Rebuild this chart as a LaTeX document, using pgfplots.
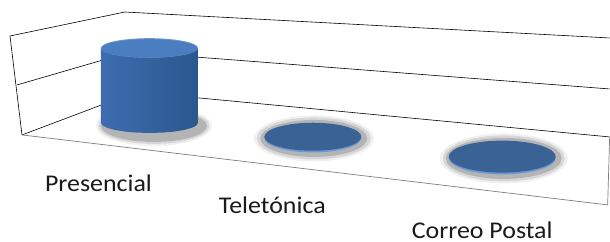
\documentclass[border=0pt]{standalone}
\usepackage{pgfplots}
\pgfplotsset{compat=1.18}
\usepackage{fontspec}
\setmainfont{Carlito}
\definecolor{cylL}{HTML}{3D6DB0}
\definecolor{cylM}{HTML}{5891D5}
\definecolor{cylR}{HTML}{2B578E}
\definecolor{cyltop}{HTML}{4A7EC0}
\definecolor{disk}{HTML}{3B6295}
\definecolor{diskrim}{HTML}{6A9AD6}
\definecolor{grid}{HTML}{8C8C8C}
\definecolor{txt}{HTML}{1A1A1A}
\begin{document}
\begin{tikzpicture}
\begin{axis}[
  width=610pt, height=242pt, scale only axis,
  xmin=0, xmax=610, ymin=0, ymax=242, y dir=reverse,
  hide axis, clip=false, clip marker paths=true,
  ell/.style={only marks, mark=*, mark size=1pt},
]
% background
\addplot[fill=white, draw=none] coordinates {(0,0) (610,0) (610,242) (0,242)};
% walls
\addplot[grid, line width=0.6pt] coordinates {(22,135) (10,36) (125,12) (610,38)};
\addplot[grid, line width=0.6pt] coordinates {(17,85) (130.5,52) (610,89)};
\addplot[grid, line width=0.6pt] coordinates {(22,135) (136,92) (610,137)};
% floor
\addplot[grid!90!black, line width=0.7pt] coordinates {(22,135) (608,205) (610,137)};
% shadows (soft, layered)
\addplot[ell, mark options={draw opacity=0, fill=black, fill opacity=0.06, xscale=58, yscale=20}] coordinates {(154,126)};
\addplot[ell, mark options={draw opacity=0, fill=black, fill opacity=0.10, xscale=55.5, yscale=18}] coordinates {(154,126)};
\addplot[ell, mark options={draw opacity=0, fill=black, fill opacity=0.16, xscale=53, yscale=16}] coordinates {(154,126)};
\addplot[ell, mark options={draw opacity=0, fill=black, fill opacity=0.06, xscale=60, yscale=23}] coordinates {(314,138.5)};
\addplot[ell, mark options={draw opacity=0, fill=black, fill opacity=0.10, xscale=57, yscale=21}] coordinates {(314,138.5)};
\addplot[ell, mark options={draw opacity=0, fill=black, fill opacity=0.16, xscale=53.5, yscale=18.5}] coordinates {(314,138.5)};
\addplot[ell, mark options={draw opacity=0, fill=black, fill opacity=0.06, xscale=64, yscale=25}] coordinates {(504,158.5)};
\addplot[ell, mark options={draw opacity=0, fill=black, fill opacity=0.10, xscale=61, yscale=23}] coordinates {(504,158.5)};
\addplot[ell, mark options={draw opacity=0, fill=black, fill opacity=0.16, xscale=58, yscale=20.5}] coordinates {(504,158.5)};
% Presencial cylinder body
\addplot[draw=none, left color=cylL, middle color=cylM, right color=cylR] coordinates {
 (101,48) (101,123) (102.65,125.6) (107.5,128) (115.2,130.1) (125.25,131.7)
 (136.9,132.7) (149.5,133) (162.1,132.7) (173.75,131.7) (183.8,130.1)
 (191.5,128) (196.35,125.6) (198,123) (198,48)};
% Presencial top face
\addplot[ell, mark options={draw opacity=0, fill=cyltop!80!white, xscale=48.5, yscale=9.8}] coordinates {(149.5,48)};
\addplot[ell, mark options={draw opacity=0, fill=cyltop, xscale=47.8, yscale=9.2}] coordinates {(149.5,48.4)};
% Teletonica disk
\addplot[ell, mark options={draw opacity=0, fill=diskrim, xscale=48.5, yscale=14.5}] coordinates {(313,138)};
\addplot[ell, mark options={draw opacity=0, fill=disk, xscale=48.5, yscale=14}] coordinates {(313,136.8)};
% Correo Postal disk
\addplot[ell, mark options={draw opacity=0, fill=diskrim, xscale=53.5, yscale=16.5}] coordinates {(502.5,158)};
\addplot[ell, mark options={draw opacity=0, fill=disk, xscale=53.5, yscale=16}] coordinates {(502.5,156.7)};
% labels
\node[anchor=base, inner sep=0pt, text depth=0pt, text=txt, font=\fontsize{24}{28}\selectfont, xscale=1.08] at (axis cs:98.5,192) {Presencial};
\node[anchor=base, inner sep=0pt, text depth=0pt, text=txt, font=\fontsize{24}{28}\selectfont, xscale=1.08] at (axis cs:272.5,213.5) {Teletónica};
\node[anchor=base, inner sep=0pt, text depth=0pt, text=txt, font=\fontsize{24}{28}\selectfont, xscale=1.08] at (axis cs:482.5,238.5) {Correo Postal};
\end{axis}
\end{tikzpicture}
\end{document}
